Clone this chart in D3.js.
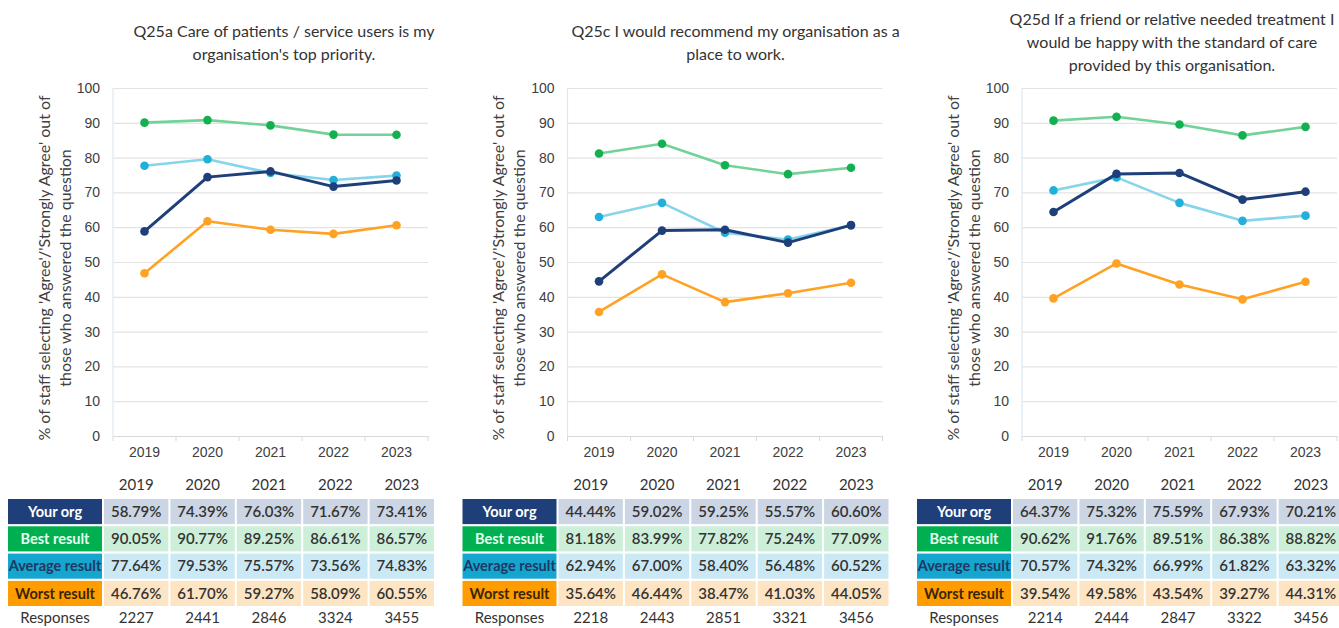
<!DOCTYPE html>
<html>
<head>
<meta charset="UTF-8" />
<title>Staff survey Q25</title>
<script src="https://cdn.jsdelivr.net/npm/d3@7"></script>
<style>
    body { margin: 0; background: #fff; }
    svg { display: block; font-family: Lato, 'Open Sans', sans-serif; }
    .grid line { stroke: #e3e3e3; stroke-width: 1.2; }
    .grid .domain { display: none; }
    .tick text { fill: #404040; }
</style>
</head>
<body>
<div id="chart"></div>
<script>
    var years = ["2019", "2020", "2021", "2022", "2023"];
    var seriesNames = ["Your org", "Best result", "Average result", "Worst result"];

    var titles = [
        ["Q25a Care of patients / service users is my", "organisation's top priority."],
        ["Q25c I would recommend my organisation as a", "place to work."],
        ["Q25d If a friend or relative needed treatment I", "would be happy with the standard of care", "provided by this organisation."]
    ];
    var yLabel = ["% of staff selecting 'Agree'/'Strongly Agree' out of", "those who answered the question"];
    var yTicks = [0, 10, 20, 30, 40, 50, 60, 70, 80, 90, 100];

    // one array per series, one row per question (Q25a, Q25c, Q25d)
    var yourOrg = [
        [58.79, 74.39, 76.03, 71.67, 73.41],
        [44.44, 59.02, 59.25, 55.57, 60.60],
        [64.37, 75.32, 75.59, 67.93, 70.21]
    ];
    var bestResult = [
        [90.05, 90.77, 89.25, 86.61, 86.57],
        [81.18, 83.99, 77.82, 75.24, 77.09],
        [90.62, 91.76, 89.51, 86.38, 88.82]
    ];
    var averageResult = [
        [77.64, 79.53, 75.57, 73.56, 74.83],
        [62.94, 67.00, 58.40, 56.48, 60.52],
        [70.57, 74.32, 66.99, 61.82, 63.32]
    ];
    var worstResult = [
        [46.76, 61.70, 59.27, 58.09, 60.55],
        [35.64, 46.44, 38.47, 41.03, 44.05],
        [39.54, 49.58, 43.54, 39.27, 44.31]
    ];
    var responses = [
        [2227, 2441, 2846, 3324, 3455],
        [2218, 2443, 2851, 3321, 3456],
        [2214, 2444, 2847, 3322, 3456]
    ];

    var allSeries = [yourOrg, bestResult, averageResult, worstResult];

    // styles per series: line, marker, label box, label text, cell fill
    var lineColor   = ["#1f3f7a", "#72d29a", "#86d5ea", "#ffa224"];
    var markerColor = ["#1f3f7a", "#12b04e", "#22b0d8", "#ffa224"];
    var labelFill   = ["#1f3f7a", "#00b050", "#14a6cf", "#ff9c00"];
    var labelText   = ["#ffffff", "#e8fff0", "#1f3864", "#3a2600"];
    var cellFill    = ["#ccd5e3", "#cdefd9", "#cbe9f5", "#fde4c3"];
    var drawOrder = [1, 2, 0, 3];

    var W = 1339, H = 628;
    var panelOffset = 454.5;
    var titleX = [284, 281, 263];

    var svg = d3.select("#chart").append("svg")
        .attr("width", W)
        .attr("height", H);

    var y = d3.scaleLinear().domain([0, 100]).range([436, 88]);

    titles.forEach(function(title, q) {
        var g = svg.append("g")
            .attr("transform", "translate(" + (q * panelOffset) + ",0)");

        var x = d3.scaleBand().domain(years).range([113, 428]);

        // title
        var t0 = title.length > 2 ? 19 : 31;
        g.append("text")
            .attr("x", titleX[q])
            .attr("text-anchor", "middle")
            .attr("fill", "#333")
            .style("font-size", "16px")
            .selectAll("tspan")
            .data(title)
            .join("tspan")
            .attr("x", titleX[q])
            .attr("y", function(d, i) { return t0 + i * 23; })
            .attr("dy", "0.35em")
            .text(function(d) { return d; });

        // y axis label
        g.append("text")
            .attr("transform", "translate(0,268) rotate(-90)")
            .attr("text-anchor", "middle")
            .attr("fill", "#404040")
            .style("font-size", "16px")
            .selectAll("tspan")
            .data(yLabel)
            .join("tspan")
            .attr("x", 0)
            .attr("y", function(d, i) { return 44 + i * 21; })
            .attr("dy", "0.35em")
            .text(function(d) { return d; });

        // gridlines + y ticks
        var yAxis = g.append("g")
            .attr("class", "grid")
            .attr("transform", "translate(113,0)")
            .call(d3.axisLeft(y).tickValues(yTicks).tickSize(-315).tickPadding(13));
        yAxis.selectAll(".tick text").style("font-size", "14px");
        yAxis.selectAll(".tick line").filter(function(d) { return d === 0; }).remove();

        g.append("line")
            .attr("x1", 113).attr("x2", 113)
            .attr("y1", y(100)).attr("y2", y(0))
            .attr("stroke", "#dce9f3").attr("stroke-width", 1.2);

        // x axis
        var xAxis = g.append("g")
            .attr("transform", "translate(0," + y(0) + ")")
            .call(d3.axisBottom(x).tickSize(0).tickPadding(11));
        xAxis.select(".domain").attr("stroke", "#d9d9d9").attr("stroke-width", 1.2);
        xAxis.selectAll(".tick text").style("font-size", "14px");
        xAxis.selectAll(".sep")
            .data(d3.range(years.length + 1))
            .join("line")
            .attr("class", "sep")
            .attr("x1", function(i) { return 113 + i * x.step(); })
            .attr("x2", function(i) { return 113 + i * x.step(); })
            .attr("y1", 0).attr("y2", 5)
            .attr("stroke", "#d9d9d9");

        // lines
        var line = d3.line()
            .x(function(d, i) { return x(years[i]) + x.bandwidth() / 2; })
            .y(function(d) { return y(d); });

        drawOrder.forEach(function(s) {
            var vals = allSeries[s][q];
            g.append("path")
                .datum(vals)
                .attr("d", line)
                .attr("fill", "none")
                .attr("stroke", lineColor[s])
                .attr("stroke-width", s === 0 ? 3 : 2.6)
                .attr("stroke-linejoin", "round");
            g.selectAll(".pt" + s)
                .data(vals)
                .join("circle")
                .attr("class", "pt" + s)
                .attr("cx", function(d, i) { return x(years[i]) + x.bandwidth() / 2; })
                .attr("cy", function(d) { return y(d); })
                .attr("r", 4.3)
                .attr("fill", markerColor[s]);
        });

        // table
        var tx = d3.scaleBand().domain(years).range([103, 435]);
        var rowY = d3.scaleBand().domain(d3.range(seriesNames.length)).range([499, 606]).paddingInner(0.08);

        g.selectAll(".yr")
            .data(years)
            .join("text")
            .attr("class", "yr")
            .attr("x", function(d) { return tx(d) + tx.bandwidth() / 2; })
            .attr("y", 485)
            .attr("dy", "0.35em")
            .attr("text-anchor", "middle")
            .attr("fill", "#333")
            .style("font-size", "15px")
            .text(function(d) { return d; });

        seriesNames.forEach(function(name, s) {
            var ry = rowY(s), rh = rowY.bandwidth();
            g.append("rect")
                .attr("x", 8).attr("y", ry)
                .attr("width", 94).attr("height", rh)
                .attr("fill", labelFill[s]);
            g.append("text")
                .attr("x", 55).attr("y", ry + rh / 2)
                .attr("dy", "0.35em")
                .attr("text-anchor", "middle")
                .attr("fill", labelText[s])
                .style("font-size", "14.5px")
                .style("font-weight", "bold")
                .text(name);

            var vals = allSeries[s][q];
            g.selectAll(".cell" + s)
                .data(vals)
                .join("rect")
                .attr("class", "cell" + s)
                .attr("x", function(d, i) { return tx(years[i]) + 1; })
                .attr("y", ry)
                .attr("width", tx.bandwidth() - 2)
                .attr("height", rh)
                .attr("fill", cellFill[s]);
            g.selectAll(".val" + s)
                .data(vals)
                .join("text")
                .attr("class", "val" + s)
                .attr("x", function(d, i) { return tx(years[i]) + tx.bandwidth() / 2; })
                .attr("y", ry + rh / 2)
                .attr("dy", "0.35em")
                .attr("text-anchor", "middle")
                .attr("fill", "#333")
                .style("font-size", "15px")
                .style("font-weight", "600")
                .text(function(d) { return d.toFixed(2) + "%"; });
        });

        g.append("text")
            .attr("x", 55).attr("y", 618)
            .attr("dy", "0.35em")
            .attr("text-anchor", "middle")
            .attr("fill", "#333")
            .style("font-size", "15px")
            .text("Responses");
        g.selectAll(".resp")
            .data(responses[q])
            .join("text")
            .attr("class", "resp")
            .attr("x", function(d, i) { return tx(years[i]) + tx.bandwidth() / 2; })
            .attr("y", 618)
            .attr("dy", "0.35em")
            .attr("text-anchor", "middle")
            .attr("fill", "#333")
            .style("font-size", "15px")
            .text(function(d) { return d; });
    });
</script>
</body>
</html>
